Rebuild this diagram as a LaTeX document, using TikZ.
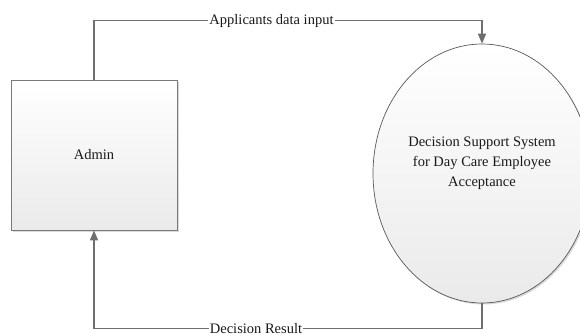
\documentclass[tikz,border=0pt]{standalone}
\usepackage{fontspec}
\setmainfont{Liberation Serif}
\usetikzlibrary{shapes.geometric,arrows.meta,shadows}
\definecolor{linegray}{HTML}{6E6E6E}
\definecolor{edgegray}{HTML}{7A7A7A}
\definecolor{fillbot}{HTML}{EAEAEA}
\begin{document}
\begin{tikzpicture}[x=1pt,y=1pt,
  every node/.style={font=\fontsize{14.5}{20}\selectfont, text=black!90},
  entitybox/.style={rectangle, draw=edgegray, line width=0.8pt,
    top color=white, bottom color=fillbot, minimum width=166pt, minimum height=150pt,
    inner sep=0pt, drop shadow={shadow xshift=1.5pt, shadow yshift=-1.5pt, fill=black!25, opacity=0.6}},
  procshape/.style={ellipse, draw=black!65, line width=0.7pt,
    top color=white, bottom color=fillbot, minimum width=218pt, minimum height=259pt,
    inner sep=0pt, drop shadow={shadow xshift=1.5pt, shadow yshift=-1.5pt, fill=black!25, opacity=0.6}},
  flow/.style={draw=linegray, line width=1.5pt, -{Triangle[length=10pt,width=8pt]}},
  flowlabel/.style={fill=white, inner sep=1pt}
]
\useasboundingbox (0,0) rectangle (580,333);
\node[entitybox] (admin) at (94,178) {};
\node (admintext) at (94,178) {Admin};
\node[procshape] (dss) at (482,159.5) {};
\node[align=center] (dsstext) at (482,170) {Decision Support System\\for Day Care Employee\\Acceptance};
\coordinate (tr) at (482,312.3);
\coordinate (br) at (482,4.5);
\draw[flow] (admin.north) |- (tr) -- (dss.north);
\draw[flow] (dss.south) -- (br) -| (admin.south);
\node[flowlabel] (lab1) at (271.5,312.3) {Applicants data input};
\node[flowlabel] (lab2) at (256,4.5) {Decision Result};
\end{tikzpicture}
\end{document}
